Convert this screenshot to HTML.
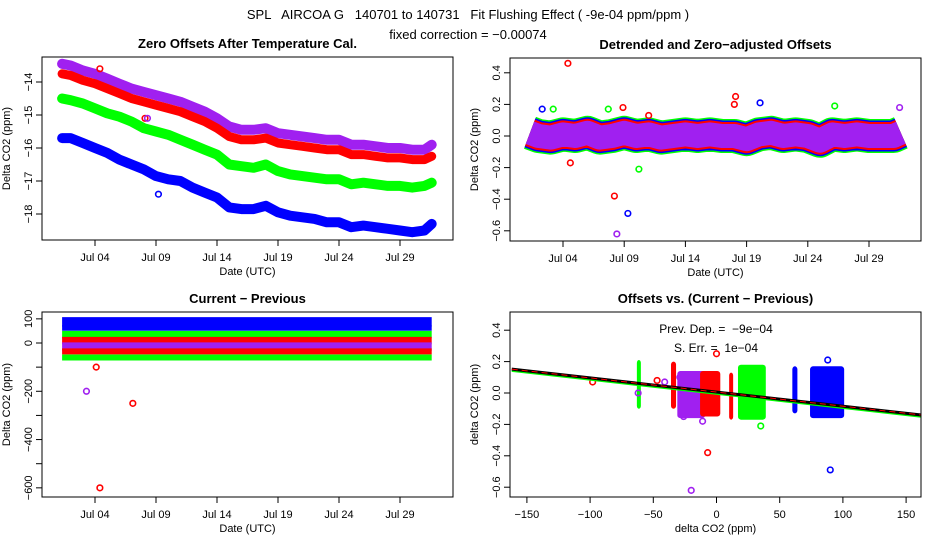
<!DOCTYPE html>
<html><head><meta charset="utf-8"><style>
body{margin:0;background:#fff}
svg{display:block;font-family:"Liberation Sans",sans-serif}
text{white-space:pre}
</style></head><body>
<svg id="c" width="936" height="540" viewBox="0 0 936 540">
<text x="468" y="19" text-anchor="middle" font-size="13" xml:space="preserve">SPL   AIRCOA G   140701 to 140731   Fit Flushing Effect ( -9e-04 ppm/ppm )</text>
<text x="468" y="39" text-anchor="middle" font-size="13">fixed correction = −0.00074</text>
</svg>
<script>
// ---------- data ----------
const days = [1.3,2,3,4,5,6,7,8,9,10,11,12,13,14,15,16,17,18,19,20,21,22,23,24,25,26,27,28,29,30,31,31.6];
const offPurple = [-13.45,-13.5,-13.65,-13.75,-13.9,-14.05,-14.2,-14.3,-14.4,-14.5,-14.6,-14.75,-14.9,-15.1,-15.35,-15.45,-15.45,-15.4,-15.55,-15.6,-15.65,-15.7,-15.75,-15.75,-15.9,-15.9,-15.95,-16.0,-16.0,-16.05,-16.05,-15.9];
const offRed = [-13.75,-13.8,-13.95,-14.05,-14.2,-14.35,-14.5,-14.6,-14.7,-14.8,-14.9,-15.05,-15.2,-15.4,-15.65,-15.75,-15.75,-15.7,-15.85,-15.9,-15.95,-16.0,-16.05,-16.05,-16.2,-16.2,-16.25,-16.3,-16.3,-16.35,-16.35,-16.25];
const offGreen = [-14.5,-14.55,-14.65,-14.8,-14.95,-15.05,-15.2,-15.4,-15.5,-15.6,-15.75,-15.9,-16.05,-16.2,-16.5,-16.55,-16.6,-16.5,-16.7,-16.8,-16.85,-16.9,-16.95,-16.95,-17.1,-17.05,-17.1,-17.15,-17.15,-17.2,-17.15,-17.05];
const offBlue = [-15.7,-15.7,-15.85,-16.0,-16.15,-16.35,-16.5,-16.65,-16.85,-16.95,-17.0,-17.2,-17.35,-17.5,-17.8,-17.85,-17.85,-17.75,-17.95,-18.05,-18.1,-18.15,-18.25,-18.25,-18.4,-18.35,-18.4,-18.45,-18.5,-18.55,-18.5,-18.3];
const p1OutDays = [4.4,8.1,8.3,9.2];
const p1OutVals = [-13.6,-15.1,-15.1,-17.4];
const p1OutCols = ['red','red','#a020f0','blue'];

const detr = [0.02,0.0,-0.01,0.01,0.0,0.02,-0.01,0.0,0.02,0.0,0.01,-0.01,0.0,0.01,0.0,0.01,0.0,0.0,-0.02,0.01,0.02,0.0,0.01,0.0,-0.03,0.01,0.0,0.01,0.0,0.0,0.0,0.02];
const p2OutDays = [4.4,4.6,8.2,9.3,8.4,18.1,18.0,20.1,26.2,10.2,3.2,7.7,8.9,31.5,11.0,2.3];
const p2OutVals = [0.46,-0.17,-0.38,-0.49,-0.62,0.25,0.2,0.21,0.19,-0.21,0.17,0.17,0.18,0.18,0.13,0.17];
const p2OutCols = ['red','red','red','blue','#a020f0','red','red','blue','#00ff00','#00ff00','#00ff00','#00ff00','red','#a020f0','red','blue'];

const cpLevels = [88,62,35,10,-15,-35,-60];
const cpHeights = [22,6,14,14,18,8,8];
const cpCols = ['blue','blue','#00ff00','red','#a020f0','red','#00ff00'];
const p3OutDays = [4.1,3.3,7.1,4.4];
const p3OutVals = [-100,-200,-250,-600];
const p3OutCols = ['red','#a020f0','red','red'];

const clX0 = [-63,-36,-31,-13,10,17,60,74];
const clX1 = [-60,-32,-9,3,13,39,64,101];
const clY0 = [-0.1,-0.1,-0.16,-0.15,-0.17,-0.17,-0.13,-0.16];
const clY1 = [0.21,0.2,0.14,0.14,0.13,0.18,0.17,0.17];
const clCols = ['#00ff00','red','#a020f0','red','red','#00ff00','blue','blue'];
const p4OutX = [-20,90,-7,0,-47,-98,35,88,-62,-26,-11,-29,-41];
const p4OutY = [-0.62,-0.49,-0.38,0.25,0.08,0.07,-0.21,0.21,0.0,-0.15,-0.18,0.1,0.07];
const p4OutCols = ['#a020f0','blue','red','red','red','red','#00ff00','blue','#a020f0','#a020f0','#a020f0','#a020f0','#a020f0'];
const fitSlope = -0.0009;
const fitIntercept = 0.006;

const dateTicks = [4,9,14,19,24,29];
const dateLabels = ['Jul 04','Jul 09','Jul 14','Jul 19','Jul 24','Jul 29'];

// ---------- helpers ----------
const svg = document.getElementById('c');
const NS = 'http://www.w3.org/2000/svg';
function mk(tag, attrs, parent){
  const e = document.createElementNS(NS, tag);
  for (const k in attrs) e.setAttribute(k, attrs[k]);
  (parent||svg).appendChild(e);
  return e;
}
function panel(name, box, title){
  const g = mk('g', {});
  
  
  const t = mk('text', {x:(box[0]+box[2])/2, y:box[1]-9, 'text-anchor':'middle', 'font-size':13, 'font-weight':'bold'}, g);
  t.textContent = title;
  
  
  return g;
}
function frame(g, box){
  const r = mk('rect', {x:box[0], y:box[1], width:box[2]-box[0], height:box[3]-box[1], fill:'none', stroke:'#000', 'stroke-width':1}, g);
  
  
}
function xAxis(g, box, vals, labels, fx, title){
  vals.forEach((v,i)=>{
    const x = fx(v);
    const l = mk('line', {x1:x, x2:x, y1:box[3], y2:box[3]+6, stroke:'#000'}, g);
    
    
    const t = mk('text', {x:x, y:box[3]+21, 'text-anchor':'middle', 'font-size':11}, g);
    t.textContent = labels[i];
    
    
  });
  const t = mk('text', {x:(box[0]+box[2])/2, y:box[3]+35, 'text-anchor':'middle', 'font-size':11}, g);
  t.textContent = title;
  
  
}
function yAxis(g, box, vals, labels, fy, title){
  vals.forEach((v,i)=>{
    const y = fy(v);
    const l = mk('line', {x1:box[0]-6, x2:box[0], y1:y, y2:y, stroke:'#000'}, g);
    
    
    if (labels[i] !== '') {
      const t = mk('text', {x:box[0]-10, y:y, 'text-anchor':'middle', 'font-size':11, transform:`rotate(-90 ${box[0]-10} ${y})`}, g);
      t.textContent = labels[i];
      
      
    }
  });
  const cx = box[0]-32, cy = (box[1]+box[3])/2;
  const t = mk('text', {x:cx, y:cy, 'text-anchor':'middle', 'font-size':11, transform:`rotate(-90 ${cx} ${cy})`}, g);
  t.textContent = title;
  
  
}
function band(g, xs, ys, fx, fy, col, w, name, cap){
  const pts = xs.map((d,i)=>fx(d).toFixed(1)+','+fy(ys[i]).toFixed(1)).join(' ');
  const p = mk('polyline', {points:pts, fill:'none', stroke:col, 'stroke-width':w, 'stroke-linejoin':'round', 'stroke-linecap':cap||'round'}, g);
  
  
}
function pts(g, xs, ys, cols, fx, fy, name){
  xs.forEach((d,i)=>{
    const c = mk('circle', {cx:fx(d), cy:fy(ys[i]), r:2.8, fill:'none', stroke:cols[i], 'stroke-width':1.6}, g);
    
    
  });
}

// ---------- panel 1 ----------
{
  const box=[42,57,453,240];
  const fx=d=>95+(d-4)*12.2, fy=v=>82+(-14-v)*33;
  const g=panel('zero-offsets-panel', box, 'Zero Offsets After Temperature Cal.');
  band(g, days, offBlue, fx, fy, 'blue', 10, 'series-blue');
  band(g, days, offGreen, fx, fy, '#00ff00', 10, 'series-green');
  band(g, days, offPurple, fx, fy, '#a020f0', 10, 'series-purple');
  band(g, days, offRed, fx, fy, 'red', 9, 'series-red');
  pts(g, p1OutDays, p1OutVals, p1OutCols, fx, fy, 'outlier-point');
  frame(g, box);
  xAxis(g, box, dateTicks, dateLabels, fx, 'Date (UTC)');
  yAxis(g, box, [-14,-15,-16,-17,-18], ['−14','−15','−16','−17','−18'], fy, 'Delta CO2 (ppm)');
}
// ---------- panel 2 ----------
{
  const box=[510,58,921,241];
  const fx=d=>563+(d-4)*12.24, fy=v=>136-v*158;
  const g=panel('detrended-offsets-panel', box, 'Detrended and Zero\u2212adjusted Offsets');
  band(g, days, detr, fx, fy, '#00ff00', 34, 'series-green', 'butt');
  band(g, days, detr, fx, fy, 'blue', 31, 'series-blue', 'butt');
  band(g, days, detr, fx, fy, 'red', 28, 'series-red', 'butt');
  band(g, days, detr, fx, fy, '#a020f0', 24, 'series-purple', 'butt');
  pts(g, p2OutDays, p2OutVals, p2OutCols, fx, fy, 'outlier-point');
  frame(g, box);
  xAxis(g, box, dateTicks, dateLabels, fx, 'Date (UTC)');
  yAxis(g, box, [0.4,0.2,0,-0.2,-0.4,-0.6], ['0.4','0.2','0.0','−0.2','−0.4','−0.6'], fy, 'Delta CO2 (ppm)');
}
// ---------- panel 3 ----------
{
  const box=[42,312,453,497];
  const fx=d=>95+(d-4)*12.2, fy=v=>343-v*0.2414;
  const g=panel('current-minus-previous-panel', box, 'Current \u2212 Previous');
  cpLevels.forEach((lv,i)=>{
    band(g, [days[0], days[days.length-1]], [lv,lv], fx, fy, cpCols[i], cpHeights[i]*0.2414+4, 'stripe-series', 'butt');
  });
  pts(g, p3OutDays, p3OutVals, p3OutCols, fx, fy, 'outlier-point');
  frame(g, box);
  xAxis(g, box, dateTicks, dateLabels, fx, 'Date (UTC)');
  yAxis(g, box, [100,0,-100,-200,-300,-400,-500,-600], ['100','0','','−200','','−400','','−600'], fy, 'Delta CO2 (ppm)');
}
// ---------- panel 4 ----------
{
  const box=[510,312,921,497];
  const fx=u=>716.5+u*1.264, fy=v=>393-v*157;
  const g=panel('offsets-vs-difference-panel', box, 'Offsets vs. (Current \u2212 Previous)');
  clX0.forEach((x0,i)=>{
    const x=fx(x0), y=fy(clY1[i]);
    const r=mk('rect', {x:x, y:y, width:Math.max(4,fx(clX1[i])-x), height:fy(clY0[i])-y, rx:3, fill:clCols[i]}, g);
    
    
  });
  pts(g, p4OutX, p4OutY, p4OutCols, fx, fy, 'outlier-point');
  const xa=-162, xb=162;
  const lg=mk('line', {x1:fx(xa), y1:fy(fitIntercept+fitSlope*xa)+1.5, x2:fx(xb), y2:fy(fitIntercept+fitSlope*xb)+1.5, stroke:'#00ff00', 'stroke-width':2.5}, g);
  
  
  const lb=mk('line', {x1:fx(xa), y1:fy(fitIntercept+fitSlope*xa), x2:fx(xb), y2:fy(fitIntercept+fitSlope*xb), stroke:'#000', 'stroke-width':3}, g);
  
  
  const lr=mk('line', {x1:fx(xa), y1:fy(fitIntercept+fitSlope*xa), x2:fx(xb), y2:fy(fitIntercept+fitSlope*xb), stroke:'red', 'stroke-width':1, 'stroke-dasharray':'6,4'}, g);
  
  
  const t1=mk('text', {x:716, y:333, 'text-anchor':'middle', 'font-size':12}, g);
  t1.textContent='Prev. Dep. =  −9e−04';
  
  
  const t2=mk('text', {x:716, y:352, 'text-anchor':'middle', 'font-size':12}, g);
  t2.textContent='S. Err. =  1e−04';
  
  
  frame(g, box);
  xAxis(g, box, [-150,-100,-50,0,50,100,150], ['−150','−100','−50','0','50','100','150'], fx, 'delta CO2 (ppm)');
  yAxis(g, box, [0.4,0.2,0,-0.2,-0.4,-0.6], ['0.4','0.2','0.0','−0.2','−0.4','−0.6'], fy, 'delta CO2 (ppm)');
}
</script>
</body></html>
